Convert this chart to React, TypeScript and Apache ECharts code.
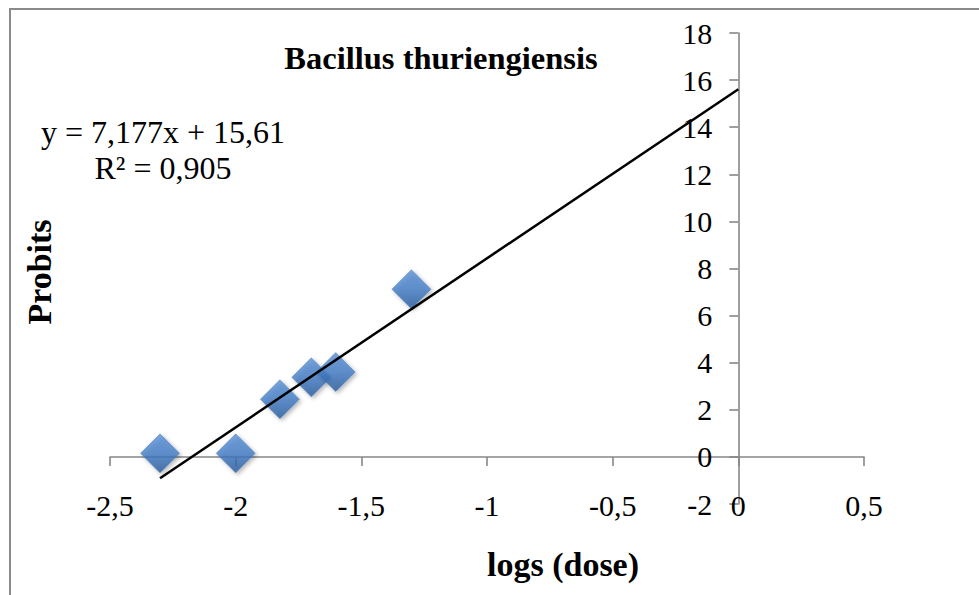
import React, { useEffect, useRef } from "react";
import * as echarts from "echarts";

// Data
const logDose = [-2.301, -2.0, -1.824, -1.699, -1.602, -1.301];
const probits = [0.15, 0.15, 2.45, 3.38, 3.6, 7.12];
const trendSlope = 7.177;
const trendIntercept = 15.61;
const trendRange = [-2.301, 0];
const xRange = [-2.5, 0.5];
const yRange = [-2, 18];
const titleText = "Bacillus thuriengiensis";
const equationText = "y = 7,177x + 15,61";
const r2Text = "R² = 0,905";
const xName = "logs (dose)";
const yName = "Probits";

const FONT = "'Liberation Serif', 'Times New Roman', serif";
const AXIS_GREY = "#878787";

const GRID_LEFT = 110;
const GRID_RIGHT = 115;
const WIDTH = 979;

const fmt = (v: number) => String(v).replace(".", ",");

export default function App() {
  const ref = useRef<HTMLDivElement>(null);

  useEffect(() => {
    if (!ref.current) return;
    const chart = echarts.init(ref.current, undefined, { renderer: "svg" });

    const trendData = trendRange.map((x) => [x, trendSlope * x + trendIntercept]);
    const scatterData = logDose.map((x, i) => [x, probits[i]]);

    // place the y axis where x = 0
    const gridW = WIDTH - GRID_LEFT - GRID_RIGHT;
    const zeroOffset = ((0 - xRange[0]) / (xRange[1] - xRange[0])) * gridW;

    chart.setOption({
      animation: false,
      backgroundColor: "#ffffff",
      grid: {
        left: GRID_LEFT,
        right: GRID_RIGHT,
        top: 33,
        bottom: 91,
        containLabel: false,
        outerBoundsMode: "none",
      },
      xAxis: [
        {
          type: "value",
          min: xRange[0],
          max: xRange[1],
          interval: 0.5,
          position: "bottom",
          axisLine: { show: false, onZero: false },
          axisTick: { show: false },
          splitLine: { show: false },
          axisLabel: {
            show: true,
            formatter: fmt,
            fontFamily: FONT,
            fontSize: 30,
            color: "#000",
            verticalAlign: "middle",
            margin: 1,
          },
        },
        {
          type: "value",
          min: xRange[0],
          max: xRange[1],
          interval: 0.5,
          position: "bottom",
          axisLine: {
            show: true,
            onZero: true,
            onZeroAxisIndex: 0,
            lineStyle: { color: AXIS_GREY, width: 1.6 },
          },
          axisTick: {
            show: true,
            inside: false,
            length: 9,
            lineStyle: { color: AXIS_GREY, width: 1.6 },
          },
          splitLine: { show: false },
          axisLabel: { show: false },
        },
      ],
      yAxis: {
        type: "value",
        min: yRange[0],
        max: yRange[1],
        interval: 2,
        position: "left",
        offset: -zeroOffset,
        axisLine: {
          show: true,
          onZero: false,
          lineStyle: { color: AXIS_GREY, width: 1.6 },
        },
        axisTick: {
          show: true,
          length: 9,
          lineStyle: { color: AXIS_GREY, width: 1.6 },
        },
        splitLine: { show: false },
        axisLabel: {
          formatter: fmt,
          fontFamily: FONT,
          fontSize: 30,
          color: "#000",
          margin: 26,
        },
      },
      series: [
        {
          type: "line",
          xAxisIndex: 0,
          data: trendData,
          symbol: "none",
          lineStyle: { color: "#000", width: 2.5 },
          z: 3,
          silent: true,
        },
        {
          type: "scatter",
          xAxisIndex: 0,
          data: scatterData,
          symbol: "diamond",
          symbolSize: 39,
          itemStyle: {
            color: new echarts.graphic.LinearGradient(0, 0, 0, 1, [
              { offset: 0, color: "#5990D6" },
              { offset: 0.5, color: "#447DC6" },
              { offset: 1, color: "#285A9C" },
            ]),
            borderColor: "#3A6FB3",
            borderWidth: 0.5,
            shadowBlur: 4,
            shadowOffsetX: 2,
            shadowOffsetY: 2,
            shadowColor: "rgba(0,0,0,0.35)",
          },
          z: 2,
        },
      ],
      graphic: [
        {
          type: "rect",
          shape: { x: 10, y: 9, width: 1000, height: 640 },
          style: { fill: "none", stroke: "#8a8a8a", lineWidth: 2 },
          z: -10,
          silent: true,
        },
        {
          type: "text",
          x: 441,
          y: 58,
          style: {
            text: titleText,
            fontFamily: FONT,
            fontWeight: "bold",
            fontSize: 32.5,
            fill: "#000",
            align: "center",
            verticalAlign: "middle",
          },
        },
        {
          type: "text",
          x: 163,
          y: 132,
          style: {
            text: equationText,
            fontFamily: FONT,
            fontSize: 32,
            fill: "#000",
            align: "center",
            verticalAlign: "middle",
          },
        },
        {
          type: "text",
          x: 163,
          y: 168,
          style: {
            text: r2Text,
            fontFamily: FONT,
            fontSize: 32,
            fill: "#000",
            align: "center",
            verticalAlign: "middle",
          },
        },
        {
          type: "text",
          x: 563,
          y: 564,
          style: {
            text: xName,
            fontFamily: FONT,
            fontWeight: "bold",
            fontSize: 34,
            fill: "#000",
            align: "center",
            verticalAlign: "middle",
          },
        },
        {
          type: "text",
          x: 39,
          y: 272,
          rotation: Math.PI / 2,
          style: {
            text: yName,
            fontFamily: FONT,
            fontWeight: "bold",
            fontSize: 34,
            fill: "#000",
            align: "center",
            verticalAlign: "middle",
          },
        },
      ],
    });

    return () => chart.dispose();
  }, []);

  return (
    <div
      ref={ref}
      style={{ position: "fixed", left: 0, top: 0, width: 979, height: 595 }}
    />
  );
}
